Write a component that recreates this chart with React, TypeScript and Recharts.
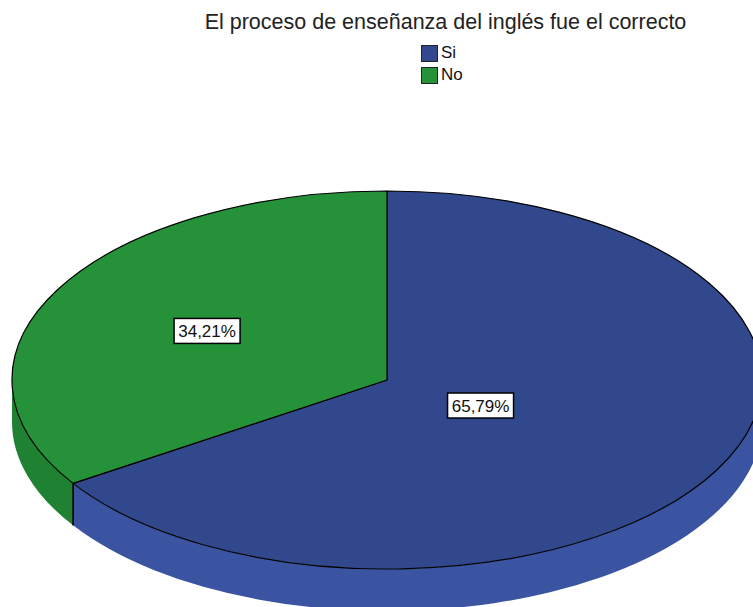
import { PieChart, Pie, Cell } from 'recharts';

const categories = ['Si', 'No'];
const percentages = [65.79, 34.21];
const topColors = ['#32488C', '#25923A'];
const wallColors = ['#3A54A2', '#1F8232'];

const TITLE = 'El proceso de enseñanza del inglés fue el correcto';
const TILT = 189 / 375; // vertical squash of the pie top
const DEPTH = 42; // thickness of the pie wall
const FONT = '"Liberation Sans", Arial, sans-serif';

const data = categories.map((name, i) => ({ name, value: percentages[i] }));

const RAD = Math.PI / 180;

const fmt = (v: number) => v.toFixed(2).replace('.', ',') + '%';

// draws the whole slice (wall, top, value box) as an ellipse from the angles recharts computed
const renderSlice = (props: any) => {
  const { cx, cy, outerRadius, startAngle, endAngle, index } = props;
  const rx = outerRadius;
  const ry = outerRadius * TILT;
  const pt = (a: number, dy = 0) => [cx + rx * Math.cos(a * RAD), cy - ry * Math.sin(a * RAD) + dy];

  const lo = Math.min(startAngle, endAngle);
  const hi = Math.max(startAngle, endAngle);

  // front half of the ellipse is visible as the wall
  const walls: [number, number][] = [];
  for (let k = -2; k <= 1; k++) {
    const b1 = Math.max(lo, 180 + 360 * k);
    const b2 = Math.min(hi, 360 + 360 * k);
    if (b2 > b1) walls.push([b1, b2]);
  }

  const [sx, sy] = pt(startAngle);
  const [ex, ey] = pt(endAngle);
  const large = hi - lo > 180 ? 1 : 0;
  const sweep = endAngle < startAngle ? 1 : 0;
  const top = `M${cx},${cy} L${sx},${sy} A${rx},${ry} 0 ${large} ${sweep} ${ex},${ey} Z`;

  const span = (hi - lo) * RAD;
  const d = (4 * Math.sin(span / 2)) / (3 * span);
  const mid = (startAngle + endAngle) / 2;
  const lx = cx + rx * d * Math.cos(mid * RAD);
  const ly = cy - ry * d * Math.sin(mid * RAD);
  const text = fmt(percentages[index]);
  const bw = text.length * 9.5 + 9;
  const bh = 25;

  return (
    <g key={`slice-${index}`}>
      {walls.map(([b1, b2], j) => {
        const [x1, y1] = pt(b1);
        const [x2, y2] = pt(b2);
        const path = `M${x1},${y1} A${rx},${ry} 0 0 0 ${x2},${y2} L${x2},${y2 + DEPTH} A${rx},${ry} 0 0 1 ${x1},${y1 + DEPTH} Z`;
        return (
          <g key={j}>
            <path d={path} fill={wallColors[index]} stroke="none" />
            {[b1, b2]
              .filter((b) => b === lo || b === hi)
              .map((b) => {
                const [bx, by] = pt(b);
                return <line key={b} x1={bx} y1={by} x2={bx} y2={by + DEPTH} stroke="#000" strokeWidth={1.5} />;
              })}
          </g>
        );
      })}
      <path d={top} fill={topColors[index]} stroke="#000" strokeWidth={1.2} strokeLinejoin="round" />
      <rect x={lx - bw / 2} y={ly - bh / 2} width={bw} height={bh} fill="#fff" stroke="#000" strokeWidth={1.5} />
      <text x={lx} y={ly + 6} textAnchor="middle" fontFamily={FONT} fontSize={17} fill="#111">
        {text}
      </text>
    </g>
  );
};

export default function App() {
  return (
    <div style={{ position: 'absolute', left: 0, top: 0, width: 753, height: 607, overflow: 'hidden', background: '#fff' }}>
      <PieChart width={753} height={607} margin={{ top: 0, right: 0, bottom: 0, left: 0 }}>
        <Pie
          data={data}
          dataKey="value"
          nameKey="name"
          cx={387}
          cy={380}
          outerRadius={375}
          startAngle={90}
          endAngle={-270}
          stroke="none"
          labelLine={false}
          label={renderSlice}
          isAnimationActive={false}
        >
          {data.map((entry, i) => (
            <Cell key={`cell-${i}`} fill="transparent" />
          ))}
        </Pie>
      </PieChart>
      <div
        style={{
          position: 'absolute',
          top: 12,
          left: 0,
          width: 891,
          textAlign: 'center',
          fontFamily: FONT,
          fontSize: 21.5,
          lineHeight: 1,
          color: '#222',
          whiteSpace: 'nowrap',
        }}
      >
        {TITLE}
      </div>
      <div style={{ position: 'absolute', top: 42, left: 421, fontFamily: FONT, fontSize: 17, color: '#111' }}>
        {categories.map((c, i) => (
          <div key={c} style={{ display: 'flex', alignItems: 'center', height: 22 }}>
            <span
              style={{
                display: 'inline-block',
                width: 15,
                height: 15,
                background: topColors[i],
                border: '1px solid #222',
                marginRight: 3,
              }}
            />
            {c}
          </div>
        ))}
      </div>
    </div>
  );
}
